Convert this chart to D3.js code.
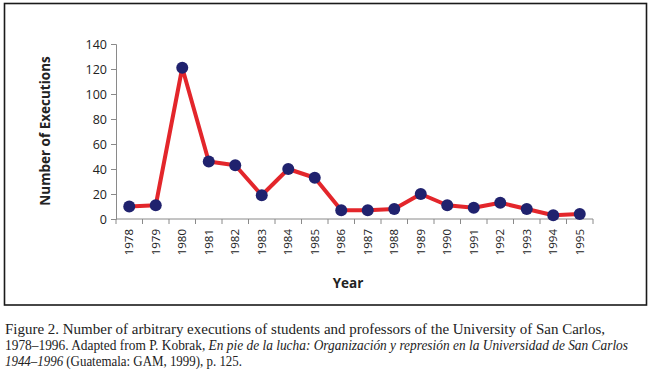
<!DOCTYPE html>
<html>
<head>
<meta charset="utf-8" />
<title>Executions</title>
<script src="https://d3js.org/d3.v7.min.js"></script>
<style>
  body { margin: 0; background: #fff; }
</style>
</head>
<body>
<svg id="chart" width="653" height="372"></svg>
<script>
// data
var years = ["1978","1979","1980","1981","1982","1983","1984","1985","1986",
             "1987","1988","1989","1990","1991","1992","1993","1994","1995"];
var executions = [10, 11, 121, 46, 43, 19, 40, 33, 7, 7, 8, 20, 11, 9, 13, 8, 3, 4];
var yTicks = [0, 20, 40, 60, 80, 100, 120, 140];

var svg = d3.select("#chart");

// outer frame
svg.append("rect")
    .attr("x", 4.5).attr("y", 3.5)
    .attr("width", 642).attr("height", 301.5)
    .attr("fill", "none")
    .attr("stroke", "#1a1a1a")
    .attr("stroke-width", 1.6);

var x = d3.scaleBand().domain(years).range([116, 593]);
var y = d3.scaleLinear().domain([0, 140]).range([219, 44]);

var sans = "Open Sans, Liberation Sans, sans-serif";

// y axis
var yAxis = svg.append("g")
    .attr("transform", "translate(116,0)")
    .call(d3.axisLeft(y).tickValues(yTicks).tickSize(5).tickPadding(4));
yAxis.select(".domain").attr("stroke", "#8a8a8a");
yAxis.selectAll(".tick line").attr("stroke", "#8a8a8a");
yAxis.selectAll("text")
    .attr("font-family", sans).attr("font-size", 12.5).attr("fill", "#222");

// x axis: ticks on band edges
var xg = svg.append("g").attr("transform", "translate(0,219)");
xg.append("line")
    .attr("x1", x.range()[0]).attr("x2", x.range()[1])
    .attr("stroke", "#8a8a8a");
xg.selectAll("line.tk")
    .data(years.concat(["end"]))
    .enter().append("line")
    .attr("class", "tk")
    .attr("x1", function (d, i) { return x.range()[0] + i * x.step(); })
    .attr("x2", function (d, i) { return x.range()[0] + i * x.step(); })
    .attr("y1", 0).attr("y2", 5)
    .attr("stroke", "#8a8a8a");
xg.selectAll("text")
    .data(years)
    .enter().append("text")
    .attr("transform", function (d) {
        return "translate(" + (x(d) + x.bandwidth() / 2 + 4) + ",10) rotate(-90)";
    })
    .attr("text-anchor", "end")
    .attr("font-family", sans).attr("font-size", 11.5).attr("fill", "#222")
    .text(function (d) { return d; });

// axis titles
svg.append("text")
    .attr("transform", "translate(50,131) rotate(-90)")
    .attr("text-anchor", "middle")
    .attr("font-family", sans).attr("font-size", 13.5).attr("font-weight", "bold")
    .attr("fill", "#222")
    .text("Number of Executions");
svg.append("text")
    .attr("x", 348).attr("y", 288)
    .attr("text-anchor", "middle")
    .attr("font-family", sans).attr("font-size", 13.5).attr("font-weight", "bold")
    .attr("fill", "#222")
    .text("Year");

// line
var line = d3.line()
    .x(function (d, i) { return x(years[i]) + x.bandwidth() / 2; })
    .y(function (d) { return y(d); });
svg.append("path")
    .datum(executions)
    .attr("d", line)
    .attr("fill", "none")
    .attr("stroke", "#e3262b")
    .attr("stroke-width", 4)
    .attr("stroke-linejoin", "round");

svg.selectAll("circle")
    .data(executions)
    .enter().append("circle")
    .attr("cx", function (d, i) { return x(years[i]) + x.bandwidth() / 2; })
    .attr("cy", function (d) { return y(d); })
    .attr("r", 6)
    .attr("fill", "#20226e");

// caption
var serif = "Liberation Serif, DejaVu Serif, serif";
var cap = svg.append("g")
    .attr("font-family", serif).attr("font-size", 14).attr("fill", "#222");
cap.append("text").attr("x", 5).attr("y", 334)
    .attr("textLength", 600).attr("lengthAdjust", "spacingAndGlyphs")
    .text("Figure 2. Number of arbitrary executions of students and professors of the University of San Carlos,");
var l2 = cap.append("text").attr("x", 5).attr("y", 350)
    .attr("textLength", 623).attr("lengthAdjust", "spacingAndGlyphs");
l2.append("tspan").text("1978–1996. Adapted from P. Kobrak, ");
l2.append("tspan").attr("font-style", "italic")
    .text("En pie de la lucha: Organización y represión en la Universidad de San Carlos");
var l3 = cap.append("text").attr("x", 5).attr("y", 366)
    .attr("textLength", 237).attr("lengthAdjust", "spacingAndGlyphs");
l3.append("tspan").attr("font-style", "italic").text("1944–1996");
l3.append("tspan").text(" (Guatemala: GAM, 1999), p. 125.");
</script>
</body>
</html>
